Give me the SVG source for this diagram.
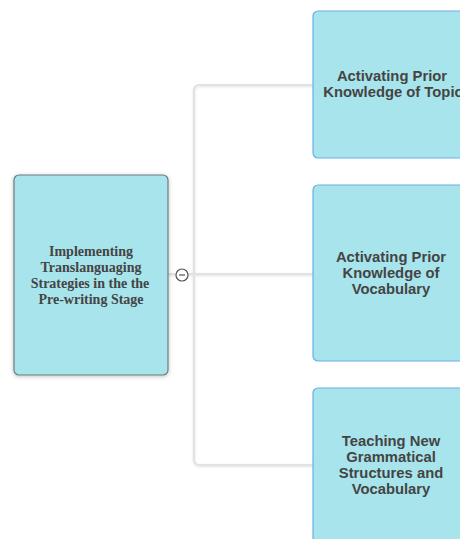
<svg xmlns="http://www.w3.org/2000/svg" width="460" height="539" viewBox="0 0 460 539">
<defs>
<filter id="sh" x="-20%" y="-20%" width="140%" height="140%">
<feDropShadow dx="0" dy="1" stdDeviation="2" flood-color="#000" flood-opacity="0.25"/>
</filter>
<filter id="lsh" x="-5%" y="-5%" width="110%" height="110%">
<feDropShadow dx="0" dy="1" stdDeviation="1" flood-color="#000" flood-opacity="0.12"/>
</filter>
</defs>
<style>
.conn{fill:none;stroke:#e2e2e2;stroke-width:2}
.root{fill:#a8e4ec;stroke:#6d7b80;stroke-width:1.2}
.child{fill:#a8e4ec;stroke:#6aaee8;stroke-width:1.2}
.rt{font-family:"Liberation Serif",serif;font-weight:bold;font-size:14px;fill:#444;text-anchor:middle}
.ct{font-family:"Liberation Sans",Arial,sans-serif;font-weight:bold;font-size:14.8px;fill:#444;text-anchor:middle}
</style>
<rect width="460" height="539" fill="#fff"/>
<g id="connectors" filter="url(#lsh)">
<path class="conn" d="M313 85 H200 Q194 85 194 91 V459 Q194 465 200 465 H313"/>
<path class="conn" d="M168 274 H313"/>
</g>
<g id="root">
<rect class="root" x="14" y="175" width="154" height="200" rx="5" filter="url(#sh)"/>
<text class="rt" x="91" y="256">Implementing</text>
<text class="rt" x="91" y="272">Translanguaging</text>
<text class="rt" x="90" y="288">Strategies in the the</text>
<text class="rt" x="91" y="304">Pre-writing Stage</text>
</g>
<g id="toggle">
<circle cx="182" cy="275" r="6" fill="#fff" stroke="#555" stroke-width="1.2"/>
<line x1="179" y1="275" x2="185" y2="275" stroke="#555" stroke-width="1.2"/>
</g>
<g id="n1">
<rect class="child" x="313" y="11" width="160" height="147" rx="5"/>
<text class="ct" x="392" y="81">Activating Prior</text>
<text class="ct" x="393" y="97">Knowledge of Topic</text>
</g>
<g id="n2">
<rect class="child" x="313" y="185" width="160" height="176" rx="5"/>
<text class="ct" x="391" y="262">Activating Prior</text>
<text class="ct" x="391" y="278">Knowledge of</text>
<text class="ct" x="391" y="294">Vocabulary</text>
</g>
<g id="n3">
<rect class="child" x="313" y="388" width="160" height="170" rx="5"/>
<text class="ct" x="391" y="446">Teaching New</text>
<text class="ct" x="391" y="462">Grammatical</text>
<text class="ct" x="391" y="478">Structures and</text>
<text class="ct" x="391" y="494">Vocabulary</text>
</g>
</svg>
